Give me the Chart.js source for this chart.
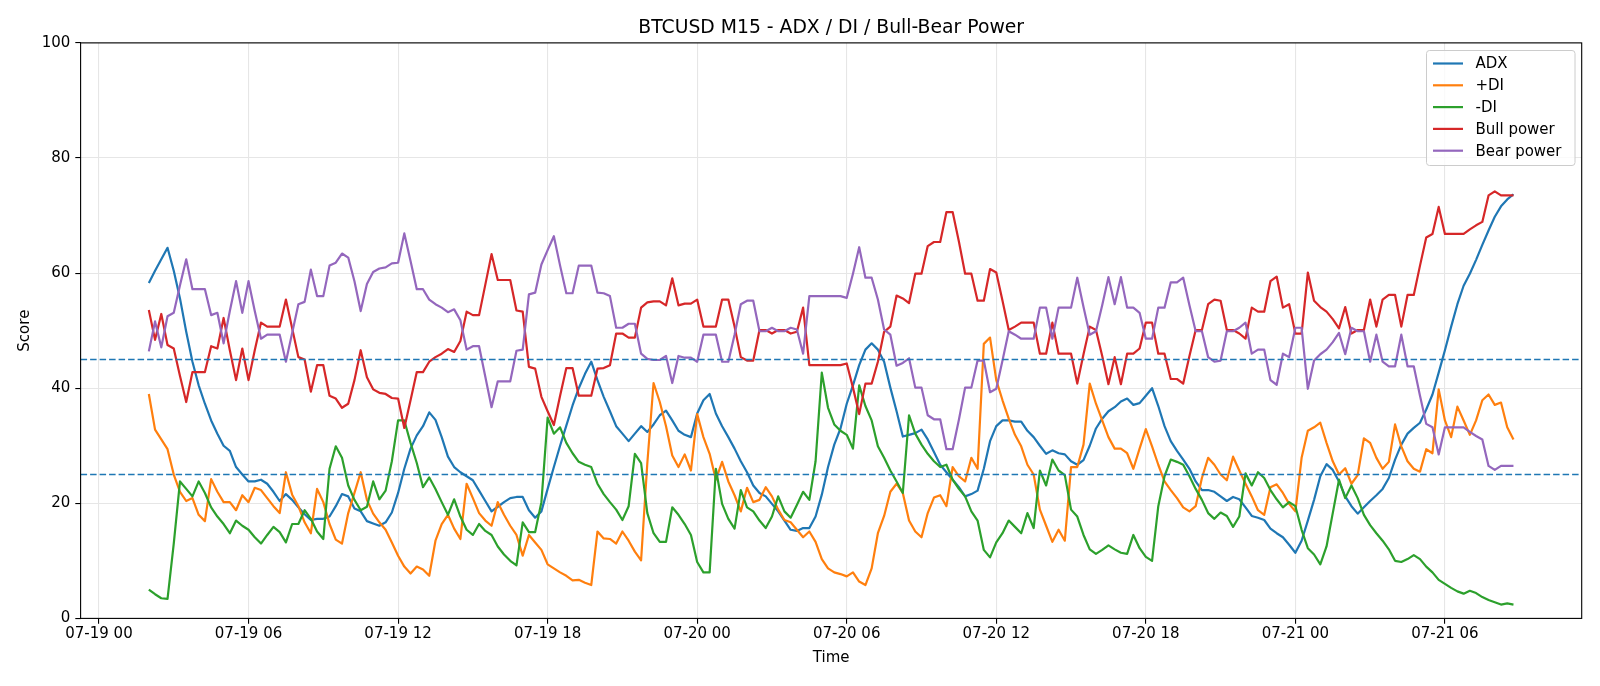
<!DOCTYPE html>
<html>
<head>
<meta charset="utf-8">
<title>BTCUSD M15 - ADX / DI / Bull-Bear Power</title>
<script src="https://cdn.jsdelivr.net/npm/chart.js@4.4.1/dist/chart.umd.min.js"></script>
<style>
    html, body { margin: 0; padding: 0; background: #fff; }
    #chart { display: block; }
</style>
</head>
<body>
<canvas id="chart" width="1600" height="686"></canvas>
<script>
// 15-minute bars, first bar at 07-19 02:00 (hours counted from 07-19 00:00)
const startHour = 2;
const stepHours = 0.25;

const adx = [
    58.3, 60.4, 62.4, 64.4, 60.4, 55.6, 49.8, 44.6, 40.5, 37.3,
    34.4, 32.1, 30.0, 29.1, 26.3, 25.0, 23.8, 23.8, 24.1, 23.4,
    22.0, 20.4, 21.6, 20.6, 19.3, 18.1, 17.1, 17.3, 17.3, 17.7,
    19.5, 21.6, 21.2, 19.1, 18.6, 16.9, 16.5, 16.1, 16.7, 18.4,
    21.8, 26.0, 29.5, 31.8, 33.4, 35.8, 34.5, 31.5, 28.1, 26.3,
    25.4, 24.7, 24.0, 22.2, 20.4, 18.6, 19.4, 20.2, 20.9, 21.1,
    21.1, 18.8, 17.5, 18.6, 22.5, 26.3, 30.0, 33.5, 37.0, 40.0,
    42.5, 44.6, 41.4, 38.5, 36.0, 33.4, 32.1, 30.8, 32.1, 33.4,
    32.4, 33.7, 35.3, 36.1, 34.4, 32.6, 31.9, 31.5, 35.6, 37.9,
    39.0, 35.6, 33.4, 31.5, 29.5, 27.3, 25.4, 23.1, 21.8, 21.2,
    19.9, 18.6, 17.0, 15.4, 15.2, 15.7, 15.7, 17.7, 21.5, 26.3,
    30.2, 33.0, 37.3, 40.5, 44.0, 46.7, 47.8, 46.7, 44.6, 40.1,
    36.0, 31.6, 31.9, 32.2, 32.8, 31.1, 28.9, 26.7, 25.4, 24.1,
    22.8, 21.2, 21.6, 22.2, 26.0, 30.8, 33.4, 34.4, 34.4, 34.2,
    34.2, 32.6, 31.5, 30.0, 28.6, 29.2, 28.7, 28.5, 27.3, 26.7,
    27.5, 30.0, 33.0, 34.7, 36.0, 36.7, 37.7, 38.2, 37.1, 37.4,
    38.7, 40.0, 36.9, 33.4, 30.8, 29.1, 27.6, 26.0, 23.8, 22.3,
    22.3, 22.0, 21.2, 20.4, 21.1, 20.7, 19.3, 17.8, 17.5, 17.1,
    15.6, 14.8, 14.1, 12.8, 11.4, 13.5, 17.0, 20.6, 24.7, 26.8,
    25.8, 23.8, 21.2, 19.5, 18.2, 19.3, 20.4, 21.4, 22.5, 24.4,
    27.6, 30.2, 32.1, 33.1, 34.0, 36.3, 38.9, 42.7, 46.6, 50.7,
    54.6, 57.8, 59.9, 62.3, 64.9, 67.4, 69.8, 71.6, 72.8, 73.7
];

const plusDi = [
    39.0, 32.8, 31.1, 29.4, 25.0, 22.0, 20.4, 20.9, 18.0, 16.9,
    24.2, 22.0, 20.2, 20.2, 18.8, 21.4, 20.2, 22.7, 22.3, 20.9,
    19.5, 18.3, 25.4, 21.5, 19.5, 16.7, 14.8, 22.5, 20.2, 16.4,
    13.7, 13.0, 18.3, 21.8, 25.4, 20.6, 18.2, 16.7, 15.4, 13.2,
    10.9, 9.0, 7.8, 9.0, 8.5, 7.4, 13.5, 16.4, 18.0, 15.6,
    13.8, 23.4, 20.9, 18.3, 17.0, 16.1, 20.2, 18.0, 16.1, 14.5,
    10.9, 14.5, 13.2, 11.9, 9.4, 8.7, 8.0, 7.4, 6.6, 6.7,
    6.2, 5.8, 15.1, 13.9, 13.8, 13.0, 15.1, 13.5, 11.6, 10.1,
    27.0, 40.9, 37.6, 33.4, 28.3, 26.3, 28.5, 25.7, 35.5, 31.5,
    28.6, 24.1, 27.2, 23.8, 21.4, 18.6, 22.7, 20.2, 20.6, 22.8,
    21.2, 18.9, 17.1, 16.7, 15.4, 14.1, 15.1, 13.3, 10.3, 8.7,
    8.0, 7.7, 7.3, 8.0, 6.4, 5.8, 8.7, 14.8, 17.8, 22.0,
    23.4, 21.8, 17.0, 15.1, 14.1, 18.3, 21.0, 21.4, 19.5, 26.3,
    24.7, 23.8, 27.9, 26.0, 47.7, 48.8, 41.4, 37.9, 34.7, 31.9,
    29.9, 26.7, 25.0, 18.9, 16.1, 13.3, 15.4, 13.5, 26.3, 26.3,
    30.2, 40.8, 37.3, 34.4, 31.5, 29.5, 29.5, 28.7, 26.0, 29.5,
    32.9, 29.9, 26.7, 23.8, 22.3, 20.9, 19.3, 18.6, 19.5, 24.4,
    27.9, 26.7, 25.0, 24.0, 28.1, 25.7, 23.4, 21.2, 18.8, 18.0,
    22.8, 23.3, 21.8, 19.9, 18.6, 27.9, 32.6, 33.2, 34.0, 30.5,
    27.3, 25.0, 26.1, 23.4, 24.9, 31.3, 30.5, 27.9, 26.0, 27.2,
    33.7, 29.9, 27.3, 26.0, 25.5, 29.4, 28.7, 39.8, 34.4, 31.5,
    36.8, 34.4, 31.9, 34.4, 37.9, 38.9, 37.1, 37.5, 33.2, 31.1
];

const minusDi = [
    5.0, 4.2, 3.5, 3.4, 13.0, 23.8, 22.5, 21.2, 23.8, 21.8,
    19.3, 17.7, 16.4, 14.8, 17.0, 16.1, 15.4, 14.1, 13.0, 14.5,
    15.9, 15.0, 13.2, 16.4, 16.4, 18.8, 17.3, 15.1, 13.8, 26.0,
    29.9, 27.9, 23.1, 20.6, 18.8, 19.4, 23.8, 20.7, 22.2, 27.3,
    34.4, 34.4, 30.5, 27.0, 22.8, 24.5, 22.5, 20.2, 18.0, 20.7,
    17.7, 15.4, 14.5, 16.4, 15.2, 14.5, 12.5, 11.1, 10.0, 9.2,
    16.7, 15.0, 15.0, 20.2, 34.9, 32.1, 33.2, 30.5, 28.7, 27.2,
    26.7, 26.3, 23.4, 21.6, 20.2, 18.9, 17.1, 19.5, 28.6, 27.0,
    18.3, 14.8, 13.3, 13.3, 19.3, 18.0, 16.4, 14.5, 9.8, 8.0,
    8.0, 26.0, 19.9, 17.3, 15.6, 22.3, 19.3, 18.6, 17.0, 15.7,
    17.7, 21.2, 18.6, 17.5, 19.7, 22.0, 20.6, 27.3, 42.7, 36.6,
    33.7, 32.6, 31.9, 29.5, 40.5, 36.9, 34.4, 29.9, 27.9, 25.7,
    23.8, 21.8, 35.3, 32.1, 30.2, 28.6, 27.3, 26.3, 26.7, 24.1,
    22.5, 21.2, 18.6, 17.0, 11.9, 10.6, 13.2, 14.8, 17.0, 15.9,
    14.8, 18.3, 15.7, 25.7, 23.1, 27.6, 25.7, 24.9, 18.9, 17.7,
    14.5, 12.0, 11.2, 11.9, 12.7, 12.0, 11.4, 11.2, 14.5, 12.2,
    10.7, 10.0, 19.5, 24.7, 27.6, 27.2, 26.7, 24.7, 22.5, 20.6,
    18.3, 17.3, 18.4, 17.8, 15.9, 17.7, 25.2, 23.1, 25.4, 24.4,
    22.3, 20.7, 19.3, 20.2, 19.5, 15.4, 12.2, 11.1, 9.4, 12.5,
    18.3, 24.1, 20.9, 23.1, 20.9, 18.0, 16.2, 14.8, 13.5, 12.0,
    10.0, 9.8, 10.3, 11.0, 10.3, 9.0, 8.0, 6.7, 6.0, 5.3,
    4.7, 4.3, 4.8, 4.4, 3.7, 3.2, 2.8, 2.4, 2.6, 2.4
];

const bullPower = [
    53.6, 48.4, 52.9, 47.5, 46.9, 42.1, 37.6, 42.8, 42.8, 42.8,
    47.3, 46.9, 52.2, 46.6, 41.4, 46.9, 41.4, 46.6, 51.4, 50.7,
    50.7, 50.7, 55.4, 50.4, 45.4, 45.0, 39.4, 44.0, 44.0, 38.7,
    38.2, 36.6, 37.3, 41.4, 46.6, 41.9, 39.8, 39.2, 39.0, 38.3,
    38.2, 33.1, 37.9, 42.8, 42.8, 44.6, 45.4, 46.0, 46.8, 46.3,
    48.2, 53.3, 52.7, 52.7, 58.0, 63.3, 58.8, 58.8, 58.8, 53.5,
    53.3, 43.7, 43.4, 38.5, 36.0, 33.6, 38.7, 43.5, 43.5, 38.7,
    38.7, 38.7, 43.4, 43.5, 44.0, 49.5, 49.5, 48.8, 48.8, 54.0,
    54.9, 55.1, 55.1, 54.4, 59.1, 54.4, 54.7, 54.7, 55.4, 50.7,
    50.7, 50.7, 55.4, 55.4, 50.7, 45.4, 44.8, 44.8, 50.1, 50.1,
    49.5, 50.1, 50.1, 49.5, 49.8, 54.0, 44.0, 44.0, 44.0, 44.0,
    44.0, 44.0, 44.3, 40.1, 35.5, 40.8, 40.8, 44.6, 49.8, 50.7,
    56.1, 55.6, 54.8, 59.9, 59.9, 64.7, 65.4, 65.4, 70.6, 70.6,
    65.5, 59.9, 59.9, 55.2, 55.2, 60.7, 60.1, 55.2, 50.1, 50.7,
    51.4, 51.4, 51.4, 46.0, 46.0, 51.4, 46.0, 46.0, 46.0, 40.8,
    45.9, 50.7, 50.1, 45.6, 40.7, 45.4, 40.7, 46.0, 46.0, 46.9,
    51.4, 51.4, 46.0, 46.0, 41.6, 41.6, 40.8, 45.6, 50.1, 50.1,
    54.6, 55.4, 55.2, 50.1, 50.1, 49.5, 48.6, 54.0, 53.3, 53.3,
    58.6, 59.4, 54.0, 54.6, 49.5, 49.5, 60.1, 55.2, 54.1, 53.3,
    52.0, 50.4, 54.1, 49.5, 50.1, 50.1, 55.4, 50.7, 55.4, 56.2,
    56.2, 50.7, 56.2, 56.2, 61.3, 66.2, 66.8, 71.5, 66.8, 66.8,
    66.8, 66.8, 67.6, 68.3, 68.9, 73.5, 74.2, 73.5, 73.5, 73.5
];

const bearPower = [
    46.4, 51.6, 47.1, 52.5, 53.1, 57.9, 62.4, 57.2, 57.2, 57.2,
    52.7, 53.1, 47.8, 53.4, 58.6, 53.1, 58.6, 53.4, 48.6, 49.3,
    49.3, 49.3, 44.6, 49.6, 54.6, 55.0, 60.6, 56.0, 56.0, 61.3,
    61.8, 63.4, 62.7, 58.6, 53.4, 58.1, 60.2, 60.8, 61.0, 61.7,
    61.8, 66.9, 62.1, 57.2, 57.2, 55.4, 54.6, 54.0, 53.2, 53.7,
    51.8, 46.7, 47.3, 47.3, 42.0, 36.7, 41.2, 41.2, 41.2, 46.5,
    46.7, 56.3, 56.6, 61.5, 64.0, 66.4, 61.3, 56.5, 56.5, 61.3,
    61.3, 61.3, 56.6, 56.5, 56.0, 50.5, 50.5, 51.2, 51.2, 46.0,
    45.1, 44.9, 44.9, 45.6, 40.9, 45.6, 45.3, 45.3, 44.6, 49.3,
    49.3, 49.3, 44.6, 44.6, 49.3, 54.6, 55.2, 55.2, 49.9, 49.9,
    50.5, 49.9, 49.9, 50.5, 50.2, 46.0, 56.0, 56.0, 56.0, 56.0,
    56.0, 56.0, 55.7, 59.9, 64.5, 59.2, 59.2, 55.4, 50.2, 49.3,
    43.9, 44.4, 45.2, 40.1, 40.1, 35.3, 34.6, 34.6, 29.4, 29.4,
    34.5, 40.1, 40.1, 44.8, 44.8, 39.3, 39.9, 44.8, 49.9, 49.3,
    48.6, 48.6, 48.6, 54.0, 54.0, 48.6, 54.0, 54.0, 54.0, 59.2,
    54.1, 49.3, 49.9, 54.4, 59.3, 54.6, 59.3, 54.0, 54.0, 53.1,
    48.6, 48.6, 54.0, 54.0, 58.4, 58.4, 59.2, 54.4, 49.9, 49.9,
    45.4, 44.6, 44.8, 49.9, 49.9, 50.5, 51.4, 46.0, 46.7, 46.7,
    41.4, 40.6, 46.0, 45.4, 50.5, 50.5, 39.9, 44.8, 45.9, 46.7,
    48.0, 49.6, 45.9, 50.5, 49.9, 49.9, 44.6, 49.3, 44.6, 43.8,
    43.8, 49.3, 43.8, 43.8, 38.7, 33.8, 33.2, 28.5, 33.2, 33.2,
    33.2, 33.2, 32.4, 31.7, 31.1, 26.5, 25.8, 26.5, 26.5, 26.5
];

const seriesNames = ['ADX', '+DI', '-DI', 'Bull power', 'Bear power'];
const seriesColors = ['#1f77b4', '#ff7f0e', '#2ca02c', '#d62728', '#9467bd'];
const levels = [45, 25];
const xTicks = [0, 6, 12, 18, 24, 30, 36, 42, 48, 54];
const yTicks = [0, 20, 40, 60, 80, 100];

const FONT = '"DejaVu Sans", "Liberation Sans", sans-serif';

function tickLabel(h) {
    const day = 19 + Math.floor(h / 24);
    const hour = h % 24;
    return '07-' + day + ' ' + String(hour).padStart(2, '0');
}

const allSeries = [adx, plusDi, minusDi, bullPower, bearPower];
const datasets = allSeries.map(function(values, k) {
    return {
        label: seriesNames[k],
        data: values.map((v, i) => ({ x: startHour + i * stepHours, y: v })),
        borderColor: seriesColors[k],
        backgroundColor: seriesColors[k],
        borderWidth: 2.2,
        borderJoinStyle: 'round',
        pointRadius: 0,
        tension: 0,
        // matplotlib draws later series on top
        order: allSeries.length - k
    };
});

const lastHour = startHour + (adx.length - 1) * stepHours;
const margin = (lastHour - startHour) * 0.05;

// dashed levels, axes frame, title, axis titles and legend
const decorPlugin = {
    id: 'decor',
    afterDatasetsDraw(chart) {
        const ctx = chart.ctx;
        const a = chart.chartArea;
        const y = chart.scales.y;
        ctx.save();
        ctx.strokeStyle = '#1f77b4';
        ctx.lineWidth = 1.5;
        ctx.setLineDash([6.5, 3]);
        levels.forEach(function(v) {
            const py = y.getPixelForValue(v);
            ctx.beginPath();
            ctx.moveTo(a.left, py);
            ctx.lineTo(a.right, py);
            ctx.stroke();
        });
        ctx.setLineDash([]);
        ctx.strokeStyle = '#000';
        ctx.lineWidth = 1.1;
        ctx.strokeRect(a.left, a.top, a.right - a.left, a.bottom - a.top);
        ctx.restore();
    },
    afterDraw(chart) {
        const ctx = chart.ctx;
        const a = chart.chartArea;
        const cx = (a.left + a.right) / 2;
        const cy = (a.top + a.bottom) / 2;
        ctx.save();
        ctx.fillStyle = '#000';
        ctx.textAlign = 'center';
        ctx.textBaseline = 'alphabetic';
        ctx.font = '18.8px ' + FONT;
        ctx.fillText('BTCUSD M15 - ADX / DI / Bull-Bear Power', cx, a.top - 9.5);

        ctx.font = '15px ' + FONT;
        ctx.fillText('Time', cx, 662);
        ctx.textBaseline = 'middle';
        ctx.save();
        ctx.translate(25.5, cy);
        ctx.rotate(-Math.PI / 2);
        ctx.fillText('Score', 0, 0);
        ctx.restore();

        // legend box, upper right inside the axes
        const bx = 1426.5, by = 50.5, bw = 148.5, bh = 115;
        ctx.beginPath();
        ctx.roundRect(bx, by, bw, bh, 3);
        ctx.fillStyle = 'rgba(255,255,255,0.8)';
        ctx.fill();
        ctx.strokeStyle = '#cccccc';
        ctx.lineWidth = 1;
        ctx.stroke();
        ctx.textAlign = 'left';
        seriesNames.forEach(function(name, k) {
            const ry = 63.5 + k * 21.8;
            ctx.beginPath();
            ctx.moveTo(bx + 6.5, ry);
            ctx.lineTo(bx + 36.5, ry);
            ctx.strokeStyle = seriesColors[k];
            ctx.lineWidth = 2.2;
            ctx.stroke();
            ctx.fillStyle = '#000';
            ctx.fillText(name, bx + 49, ry + 1);
        });
        ctx.restore();
    }
};

new Chart(document.getElementById('chart'), {
    type: 'line',
    data: { datasets: datasets },
    options: {
        responsive: false,
        animation: false,
        devicePixelRatio: 1,
        layout: { padding: { left: 0, right: 18.3, top: 42.9, bottom: 0 } },
        plugins: {
            legend: { display: false },
            title: { display: false },
            tooltip: { enabled: false }
        },
        scales: {
            x: {
                type: 'linear',
                min: startHour - margin,
                max: lastHour + margin,
                afterFit: function(scale) { scale.height = 686 - 618.4; },
                afterBuildTicks: function(scale) {
                    scale.ticks = xTicks.map(v => ({ value: v }));
                },
                grid: {
                    color: '#e6e6e6',
                    lineWidth: 1.1,
                    tickColor: '#000',
                    tickLength: 5.3,
                    tickWidth: 1.1
                },
                border: { display: false },
                ticks: {
                    autoSkip: false,
                    maxRotation: 0,
                    padding: 1,
                    color: '#000',
                    font: { family: FONT, size: 15 },
                    callback: function(value) { return tickLabel(value); }
                }
            },
            y: {
                min: 0,
                max: 100,
                afterFit: function(scale) { scale.width = 80.6; },
                afterBuildTicks: function(scale) {
                    scale.ticks = yTicks.map(v => ({ value: v }));
                },
                grid: {
                    color: '#e6e6e6',
                    lineWidth: 1.1,
                    tickColor: '#000',
                    tickLength: 5.3,
                    tickWidth: 1.1
                },
                border: { display: false },
                ticks: {
                    padding: 5,
                    color: '#000',
                    font: { family: FONT, size: 15 }
                }
            }
        }
    },
    plugins: [decorPlugin]
});
</script>
</body>
</html>
